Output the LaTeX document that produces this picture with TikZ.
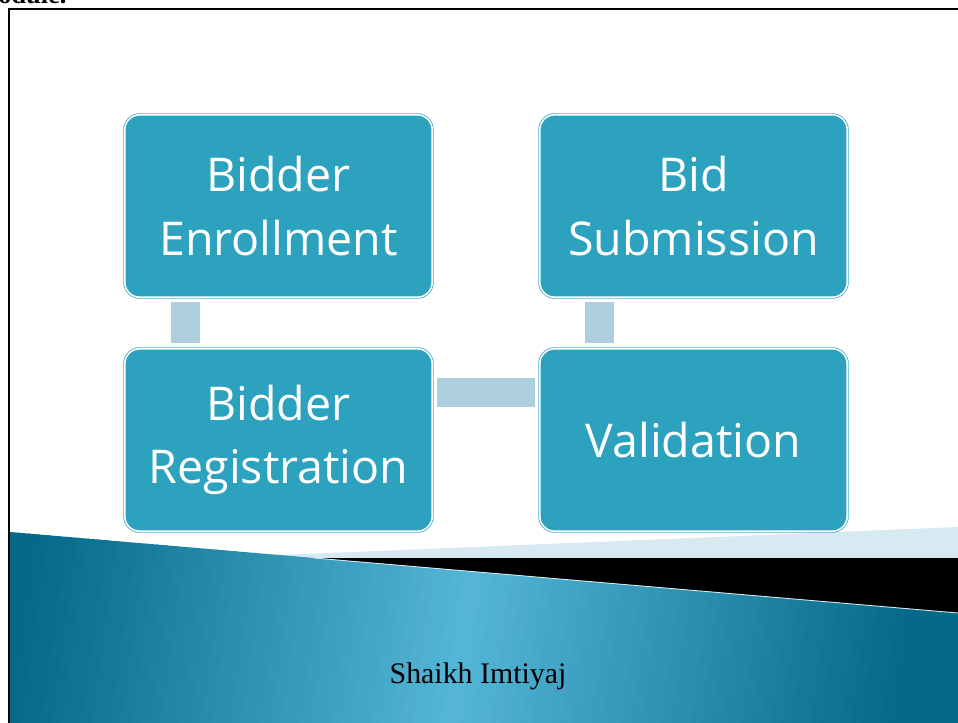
\documentclass[tikz,border=0pt]{standalone}
\usepackage{fontspec}
\setmainfont{Liberation Serif}
\newfontfamily\boxfont{Open Sans}
\definecolor{boxblue}{HTML}{2DA2BF}
\definecolor{linkblue}{HTML}{ADCEDD}
\definecolor{paleband}{HTML}{D7E9F1}
\definecolor{deepteal}{HTML}{046A87}
\definecolor{brightteal}{HTML}{55B6D7}
\tikzset{
  stage/.style={rectangle, rounded corners=0.3cm, fill=boxblue, draw=boxblue, double=white, double distance=0.9pt, line width=0.4pt, minimum width=6.15cm, minimum height=3.65cm, align=center, text=white, font=\boxfont\fontsize{26.5}{36.3}\selectfont},
  link/.style={fill=linkblue}
}
\begin{document}
\begin{tikzpicture}[x=0.02cm, y=-0.02cm]
      \useasboundingbox (0,0) rectangle (958,723);
      \node[anchor=base west, inner sep=0, font=\bfseries\fontsize{15}{18}\selectfont] (head) at (-2,4) {odule.};
      \draw[line width=1.5pt] (9,740) -- (9,9) -- (970,9);
      \fill[paleband] (280,555) -- (958,527) -- (958,560) -- (280,560) -- cycle;
      \fill[black] (300,558) rectangle (958,620);
      \begin{scope}
        \clip (10,532) -- (958,613) -- (958,723) -- (10,723) -- cycle;
        \foreach \i in {0,...,100} {
          \pgfmathsetmacro{\xx}{\i*10}
          \pgfmathsetmacro{\pp}{min(100,abs(\xx+5-480)/4.4)}
          \fill[deepteal!\pp!brightteal] (\xx,520) -- (\xx+12,520) -- (\xx-18,730) -- (\xx-30,730) -- cycle;
        }
      \end{scope}
      \draw[paleband, line width=0.5pt] (314,558) -- (958,613);
      \node[anchor=base, font=\fontsize{17}{20}\selectfont] (author) at (478,683) {Shaikh Imtiyaj};
      \node[stage] (enroll) at (278.5,206) {Bidder\\Enrollment};
      \node[stage] (submit) at (693.5,206) {Bid\\Submission};
      \node[stage] (regist) at (278.5,440) {Bidder\\Registration};
      \node[stage] (valid) at (693.5,440) {Validation};
      \fill[link] ([xshift=-2.15cm,yshift=-0.08cm]enroll.south) rectangle ([xshift=-1.57cm,yshift=0.1cm]regist.north);
      \fill[link] ([xshift=-2.17cm,yshift=-0.08cm]submit.south) rectangle ([xshift=-1.59cm,yshift=0.1cm]valid.north);
      \fill[link] ([xshift=0.08cm,yshift=1.24cm]regist.east) rectangle ([xshift=-0.08cm,yshift=0.66cm]valid.west);
    \end{tikzpicture}
\end{document}
